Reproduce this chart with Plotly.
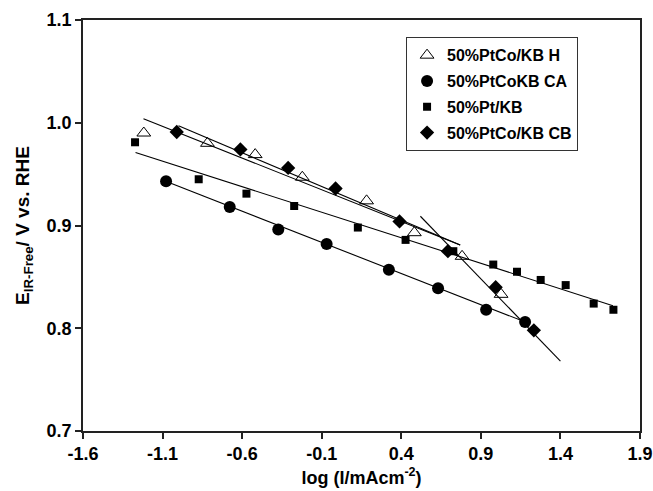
import plotly.graph_objects as go

# ---- data ----
h_x = [-1.218, -0.818, -0.518, -0.222, 0.182, 0.482, 0.782, 1.027]
h_y = [0.990, 0.980, 0.969, 0.947, 0.924, 0.893, 0.870, 0.833]

ca_x = [-1.078, -0.678, -0.373, -0.069, 0.322, 0.631, 0.933, 1.178]
ca_y = [0.943, 0.918, 0.896, 0.882, 0.857, 0.839, 0.818, 0.806]

pt_x = [-1.273, -0.873, -0.573, -0.273, 0.127, 0.427, 0.727, 0.978, 1.127, 1.276, 1.433, 1.609, 1.733]
pt_y = [0.981, 0.945, 0.931, 0.919, 0.898, 0.886, 0.875, 0.862, 0.855, 0.847, 0.842, 0.824, 0.818]

cb_x = [-1.011, -0.611, -0.311, -0.013, 0.389, 0.693, 0.993, 1.233]
cb_y = [0.991, 0.974, 0.956, 0.936, 0.904, 0.875, 0.840, 0.798]

# fitted Tafel lines (end points)
fit_h_x = [-1.22, 0.77]
fit_h_y = [1.004, 0.881]
fit_cb_x = [-1.00, 0.77]
fit_cb_y = [0.997, 0.881]
fit_steep_x = [0.52, 1.40]
fit_steep_y = [0.909, 0.768]
fit_pt_x = [-1.27, 1.73]
fit_pt_y = [0.971, 0.822]
fit_ca_x = [-1.08, 1.18]
fit_ca_y = [0.943, 0.806]

names = ["50%PtCo/KB H", "50%PtCoKB CA", "50%Pt/KB", "50%PtCo/KB CB"]

FONT = "Liberation Sans, Arial, sans-serif"

fig = go.Figure()

line_style = dict(color="black", width=1.1)
for fx, fy in [(fit_h_x, fit_h_y), (fit_cb_x, fit_cb_y), (fit_steep_x, fit_steep_y),
               (fit_pt_x, fit_pt_y), (fit_ca_x, fit_ca_y)]:
    fig.add_trace(go.Scatter(x=fx, y=fy, mode="lines", line=line_style,
                             showlegend=False, hoverinfo="skip"))

fig.add_trace(go.Scatter(x=h_x, y=h_y, mode="markers", name=names[0], legendgroup="a",
                         marker=dict(symbol="triangle-up-open", size=12, color="black",
                                     line=dict(color="black", width=1))))
fig.add_trace(go.Scatter(x=ca_x, y=ca_y, mode="markers", name=names[1], legendgroup="b",
                         marker=dict(symbol="circle", size=12, color="black")))
fig.add_trace(go.Scatter(x=pt_x, y=pt_y, mode="markers", name=names[2], legendgroup="c",
                         marker=dict(symbol="square", size=8, color="black")))
fig.add_trace(go.Scatter(x=cb_x, y=cb_y, mode="markers", name=names[3], legendgroup="d",
                         marker=dict(symbol="diamond", size=11, color="black")))

fig.update_layout(
    width=653, height=491,
    margin=dict(l=83, r=13, t=20, b=60),
    paper_bgcolor="white", plot_bgcolor="white",
    font=dict(family=FONT, color="black"),
    showlegend=True,
    legend=dict(x=0.58, y=0.958, xanchor="left", yanchor="top",
                bgcolor="white", bordercolor="#333", borderwidth=1,
                font=dict(size=16, family=FONT, color="black", weight="bold"),
                traceorder="grouped", tracegroupgap=2, itemwidth=30),
)

fig.update_xaxes(
    range=[-1.6, 1.9], tickmode="array", automargin=False,
    tickvals=[-1.6, -1.1, -0.6, -0.1, 0.4, 0.9, 1.4, 1.9],
    ticktext=["-1.6", "-1.1", "-0.6", "-0.1", "0.4", "0.9", "1.4", "1.9"],
    showgrid=False, zeroline=False,
    showline=True, linecolor="#222", linewidth=1.5, mirror=True,
    ticks="outside", ticklen=6, tickcolor="#222", tickwidth=1.5,
    tickfont=dict(size=18, family=FONT, color="black", weight="bold"),
    title=dict(text="log (I/mAcm<sup>-2</sup>)", standoff=8,
               font=dict(size=18, family=FONT, color="black", weight="bold")),
)
fig.update_yaxes(
    range=[0.7, 1.1], tickmode="array", automargin=False,
    tickvals=[0.7, 0.8, 0.9, 1.0, 1.1],
    ticktext=["0.7", "0.8", "0.9", "1.0", "1.1"],
    showgrid=False, zeroline=False,
    showline=True, linecolor="#222", linewidth=1.5, mirror=True,
    ticks="outside", ticklen=6, tickcolor="#222", tickwidth=1.5,
    tickfont=dict(size=18, family=FONT, color="black", weight="bold"),
    title=dict(text="E<sub>IR-Free</sub>/ V vs. RHE", standoff=12,
               font=dict(size=19, family=FONT, color="black", weight="bold")),
)

fig.write_html("out.html")
